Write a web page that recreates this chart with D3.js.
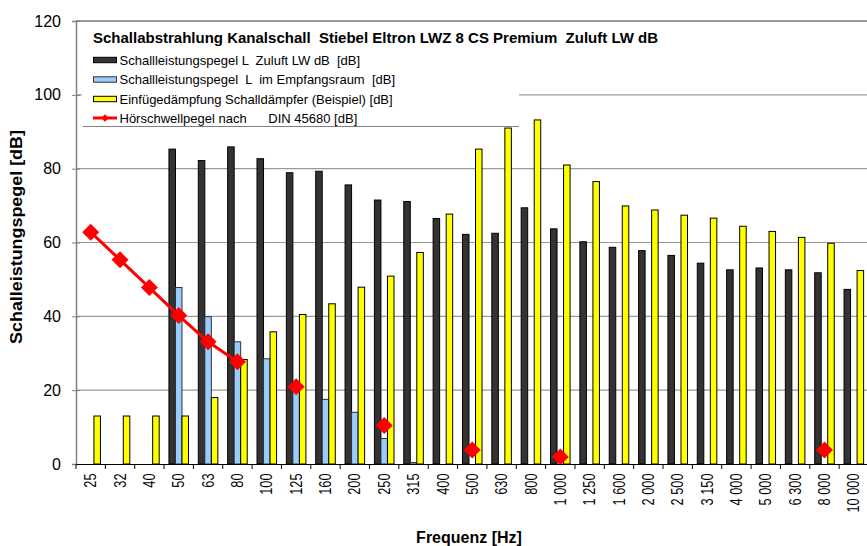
<!DOCTYPE html>
<html>
<head>
<meta charset="utf-8">
<script src="https://cdn.jsdelivr.net/npm/d3@7"></script>
<style>
  body { margin: 0; background: #fff; }
  svg { font-family: "Liberation Sans", Arial, sans-serif; display: block; }
  svg text { white-space: pre; }
</style>
</head>
<body>
<svg id="drawing_region"></svg>
<script>
// Terzbänder
const categories = ["25","32","40","50","63","80","100","125","160","200","250","315","400","500","630","800",
    "1 000","1 250","1 600","2 000","2 500","3 150","4 000","5 000","6 300","8 000","10 000"];

// Schallleistungspegel Zuluft LW dB [dB]
const zuluft = [null,null,null,85.3,82.2,85.9,82.7,78.9,79.3,75.6,71.5,71.1,66.5,62.2,62.5,69.4,
    63.7,60.2,58.7,57.8,56.5,54.4,52.6,53.1,52.6,51.8,47.3];

// Schallleistungspegel im Empfangsraum [dB]
const empfang = [null,null,null,47.8,39.9,33.1,28.5,20.5,17.5,14.0,6.9,0.4,null,null,null,null,
    null,null,null,null,null,null,null,null,null,null,null];

// Einfügedämpfung Schalldämpfer [dB]
const daempfung = [13,13,13,13,18,28.3,35.8,40.5,43.4,47.9,50.9,57.3,67.7,85.3,91.0,93.2,
    81.0,76.5,69.9,68.8,67.4,66.6,64.4,63.0,61.4,59.8,52.4];

// Hörschwellpegel nach DIN 45680 [dB]
const hoerschwelle = [62.8,55.3,47.8,40.2,33.1,27.7,null,20.9,null,null,10.4,null,null,3.8,null,null,
    1.9,null,null,null,null,null,null,null,null,3.8,null];

const yTicks = [0,20,40,60,80,100,120];

const seriesNames = [
    "Schallleistungspegel L  Zuluft LW dB  [dB]",
    "Schallleistungspegel  L  im Empfangsraum  [dB]",
    "Einfügedämpfung Schalldämpfer (Beispiel) [dB]",
    "Hörschwellpegel nach      DIN 45680 [dB]"
];

const chartTitle = "Schallabstrahlung Kanalschall  Stiebel Eltron LWZ 8 CS Premium  Zuluft LW dB";

const config = {
    width: 867,
    height: 546,
    margin: {top: 21, right: -1.5, bottom: 82, left: 76}
};

const svg = d3.select('#drawing_region')
    .attr('width', config.width)
    .attr('height', config.height);

const inner_width = config.width - config.margin.left - config.margin.right;
const inner_height = config.height - config.margin.top - config.margin.bottom;

const chart = svg.append('g')
    .attr('transform', `translate(${config.margin.left}, ${config.margin.top})`);

const xscale = d3.scaleBand()
    .domain(categories)
    .range([0, inner_width]);

const bw = xscale.bandwidth();
// gap width 150% like the spreadsheet
const inner = d3.scaleBand()
    .domain([0, 1, 2])
    .range([bw * 0.75 / 4.5, bw - bw * 0.75 / 4.5]);

const yscale = d3.scaleLinear()
    .domain([0, 120])
    .range([inner_height, 0]);

// grid
chart.append('g')
    .selectAll('line')
    .data(yTicks.filter(t => t > 0))
    .join('line')
    .attr('x1', 0)
    .attr('x2', inner_width)
    .attr('y1', d => yscale(d))
    .attr('y2', d => yscale(d))
    .attr('stroke', '#9a9a9a')
    .attr('stroke-width', d => d === 120 ? 2 : 1.2);

// bars
const series = [
    {values: zuluft, fill: '#333333', stroke: '#000'},
    {values: empfang, fill: '#99ccff', stroke: '#333'},
    {values: daempfung, fill: '#ffff00', stroke: '#000'}
];

series.forEach((s, i) => {
    chart.append('g')
        .selectAll('rect')
        .data(categories.map((c, j) => ({c: c, v: s.values[j]})).filter(d => d.v !== null))
        .join('rect')
        .attr('x', d => xscale(d.c) + inner(i))
        .attr('y', d => yscale(d.v))
        .attr('width', inner.bandwidth())
        .attr('height', d => yscale(0) - yscale(d.v))
        .attr('fill', s.fill)
        .attr('stroke', s.stroke)
        .attr('stroke-width', 1);
});

// Hörschwelle line + markers
const pts = categories.map((c, j) => ({c: c, v: hoerschwelle[j]}));
const line = d3.line()
    .defined(d => d.v !== null)
    .x(d => xscale(d.c) + bw / 2)
    .y(d => yscale(d.v));

chart.append('path')
    .datum(pts)
    .attr('d', line)
    .attr('fill', 'none')
    .attr('stroke', '#ff0000')
    .attr('stroke-width', 3);

const diamond = d3.symbol(d3.symbolSquare, 144);
chart.append('g')
    .selectAll('path')
    .data(pts.filter(d => d.v !== null))
    .join('path')
    .attr('d', diamond)
    .attr('transform', d => `translate(${xscale(d.c) + bw / 2}, ${yscale(d.v)}) rotate(45)`)
    .attr('fill', '#ff0000');

// y axis
const yaxis = d3.axisLeft(yscale)
    .tickValues(yTicks)
    .tickSize(4)
    .tickPadding(11);

const yaxis_group = chart.append('g').call(yaxis);
yaxis_group.select('.domain').attr('stroke', '#808080').attr('stroke-width', 1.5);
yaxis_group.selectAll('.tick line').attr('x1', 4).attr('stroke', '#808080');
yaxis_group.selectAll('.tick text')
    .attr('font-size', '16px')
    .attr('font-family', '"Liberation Sans", Arial, sans-serif')
    .attr('fill', '#000');

// x axis
const xaxis = d3.axisBottom(xscale)
    .tickSize(0)
    .tickSizeOuter(0);

const xaxis_group = chart.append('g')
    .attr('transform', `translate(0, ${inner_height})`)
    .call(xaxis);
xaxis_group.select('.domain').attr('stroke', '#000').attr('stroke-width', 1.2);
xaxis_group.selectAll('.tick text')
    .attr('y', 0)
    .attr('dy', '0.35em')
    .attr('text-anchor', 'end')
    .attr('transform', 'translate(0, 9.5) rotate(-90) scale(0.8, 1)')
    .attr('font-size', '16px')
    .attr('font-family', '"Liberation Sans", Arial, sans-serif')
    .attr('fill', '#000');

xaxis_group.append('g')
    .selectAll('line')
    .data(categories)
    .join('line')
    .attr('x1', d => xscale(d))
    .attr('x2', d => xscale(d))
    .attr('y1', 0)
    .attr('y2', 5)
    .attr('stroke', '#000');

// legend box
const legend = svg.append('g');
legend.append('rect')
    .attr('x', 82)
    .attr('y', 22.5)
    .attr('width', 437)
    .attr('height', 104)
    .attr('fill', '#fff');
legend.append('line')
    .attr('x1', 83).attr('x2', 519)
    .attr('y1', 126.5).attr('y2', 126.5)
    .attr('stroke', '#808080');

legend.append('text')
    .attr('x', 93)
    .attr('y', 43)
    .attr('font-size', '15px')
    .attr('font-weight', 'bold')
    .text(chartTitle);

const rowY = [60, 79.5, 99, 118];
series.forEach((s, i) => {
    legend.append('rect')
        .attr('x', 93.5)
        .attr('y', rowY[i] - 2.7)
        .attr('width', 23)
        .attr('height', 5.4)
        .attr('fill', s.fill)
        .attr('stroke', s.stroke);
});
legend.append('line')
    .attr('x1', 93).attr('x2', 117)
    .attr('y1', rowY[3]).attr('y2', rowY[3])
    .attr('stroke', '#ff0000')
    .attr('stroke-width', 3);
legend.append('path')
    .attr('d', d3.symbol(d3.symbolSquare, 30))
    .attr('transform', `translate(105, ${rowY[3]}) rotate(45)`)
    .attr('fill', '#ff0000');

legend.selectAll('text.item')
    .data(seriesNames)
    .join('text')
    .attr('class', 'item')
    .attr('x', 119.5)
    .attr('y', (d, i) => rowY[i] + 4.6)
    .attr('font-size', '13px')
    .text(d => d);

// axis titles
svg.append('text')
    .attr('transform', `translate(22, 237) rotate(-90) scale(1.12, 1)`)
    .attr('text-anchor', 'middle')
    .attr('font-size', '16px')
    .attr('font-weight', 'bold')
    .text('Schalleistungspegel [dB]');

svg.append('text')
    .attr('x', 469)
    .attr('y', 543)
    .attr('text-anchor', 'middle')
    .attr('font-size', '16px')
    .attr('font-weight', 'bold')
    .text('Frequenz [Hz]');
</script>
</body>
</html>
